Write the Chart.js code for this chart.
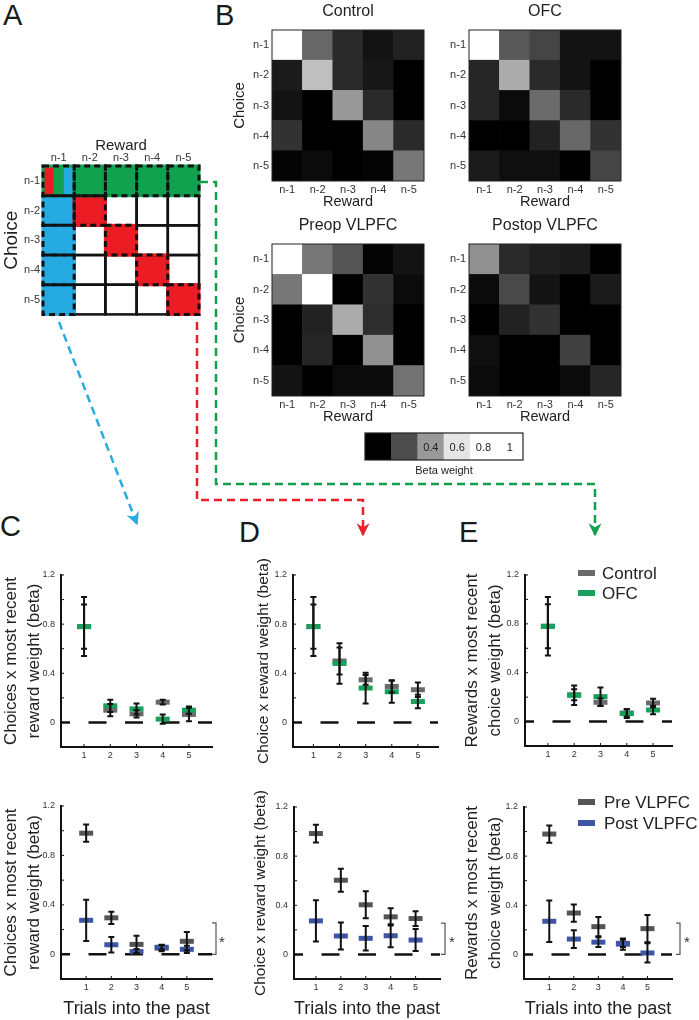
<!DOCTYPE html>
<html>
<head>
<meta charset="utf-8">
<script src="https://cdn.jsdelivr.net/npm/chart.js@4.4.0/dist/chart.umd.min.js"></script>
<style>
  html, body { margin: 0; padding: 0; background: #fff; }
  #fig { position: relative; width: 699px; height: 1020px; overflow: hidden; font-family: "Liberation Sans", Arial, sans-serif; color: #1a1a1a; }
  #fig canvas { position: absolute; }
  .letter { position: absolute; font-size: 29px; line-height: 29px; }
  #arrows { position: absolute; left: 0; top: 0; }
</style>
</head>
<body>
<div id="fig">
  <div class="letter" style="left:3px;top:1px">A</div>
  <div class="letter" style="left:215px;top:1px">B</div>
  <div class="letter" style="left:0px;top:512px">C</div>
  <div class="letter" style="left:239px;top:518px">D</div>
  <div class="letter" style="left:459px;top:518px">E</div>
  <svg id="arrows" width="699" height="1020">
    <defs>
      <marker id="hb" markerUnits="userSpaceOnUse" markerWidth="13" markerHeight="13" viewBox="0 0 10 10" refX="9" refY="5" orient="auto"><path d="M0,0 L10,5 L0,10 L3,5 z" fill="#29abe2"/></marker>
      <marker id="hr" markerUnits="userSpaceOnUse" markerWidth="13" markerHeight="13" viewBox="0 0 10 10" refX="9" refY="5" orient="auto"><path d="M0,0 L10,5 L0,10 L3,5 z" fill="#e8202a"/></marker>
      <marker id="hg" markerUnits="userSpaceOnUse" markerWidth="13" markerHeight="13" viewBox="0 0 10 10" refX="9" refY="5" orient="auto"><path d="M0,0 L10,5 L0,10 L3,5 z" fill="#10a04c"/></marker>
    </defs>
    <polyline points="59,322 137,524" fill="none" stroke="#29abe2" stroke-width="2.5" stroke-dasharray="8 5" marker-end="url(#hb)"/>
    <polyline points="197,322 197,500 363,500 363,535" fill="none" stroke="#e8202a" stroke-width="2.5" stroke-dasharray="8 5" marker-end="url(#hr)"/>
    <polyline points="200,182 216,182 216,484 595,484 595,535" fill="none" stroke="#10a04c" stroke-width="2.5" stroke-dasharray="8 5" marker-end="url(#hg)"/>
  </svg>
</div>
<script>
// ---- data ----
const lagLabels = ["n-1", "n-2", "n-3", "n-4", "n-5"]

// panel A schematic: W white, G green, R red, B blue, M mixed
const schemaCells = [
	["M", "G", "G", "G", "G"],
	["B", "R", "W", "W", "W"],
	["B", "W", "R", "W", "W"],
	["B", "W", "W", "R", "W"],
	["B", "W", "W", "W", "R"],
]

// panel B beta weights, rows = choice n-1..n-5, cols = reward n-1..n-5
const heatControl = [
	[0.90, 0.27, 0.11, 0.05, 0.09],
	[0.07, 0.50, 0.11, 0.06, 0.00],
	[0.05, 0.00, 0.40, 0.11, 0.00],
	[0.13, 0.00, 0.00, 0.35, 0.11],
	[0.01, 0.03, 0.00, 0.01, 0.31],
]
const heatOFC = [
	[0.80, 0.23, 0.18, 0.05, 0.05],
	[0.10, 0.45, 0.11, 0.05, 0.00],
	[0.10, 0.03, 0.28, 0.11, 0.00],
	[0.00, 0.00, 0.09, 0.27, 0.13],
	[0.07, 0.04, 0.04, 0.00, 0.18],
]
const heatPreop = [
	[0.98, 0.31, 0.22, 0.01, 0.05],
	[0.31, 0.70, 0.00, 0.13, 0.03],
	[0.00, 0.09, 0.45, 0.12, 0.00],
	[0.00, 0.10, 0.00, 0.38, 0.00],
	[0.05, 0.00, 0.03, 0.03, 0.30],
]
const heatPostop = [
	[0.38, 0.11, 0.08, 0.07, 0.00],
	[0.03, 0.19, 0.05, 0.00, 0.07],
	[0.00, 0.09, 0.13, 0.00, 0.00],
	[0.04, 0.00, 0.00, 0.17, 0.00],
	[0.03, 0.00, 0.00, 0.03, 0.10],
]

const colorbarLevels = [0, 0.2, 0.4, 0.6, 0.8, 1]
const colorbarTickLabels = ["", "", "0.4", "0.6", "0.8", "1"]

// panels C-E
const trials = [1, 2, 3, 4, 5]
const yTicks = [-0.2, 0, 0.2, 0.4, 0.6, 0.8, 1.0, 1.2]
const bracketTop = 0.255

const cControl = [0.78, 0.10, 0.07, 0.165, 0.065]
const cControlErr = [0.18, 0.05, 0.03, 0.02, 0.055]
const cOFC = [0.78, 0.135, 0.11, 0.027, 0.10]
const cOFCErr = [0.24, 0.05, 0.045, 0.037, 0.03]
const cPre = [0.98, 0.295, 0.08, 0.05, 0.105]
const cPreErr = [0.07, 0.05, 0.07, 0.025, 0.075]
const cPost = [0.275, 0.077, 0.022, 0.057, 0.04]
const cPostErr = [0.167, 0.063, 0.02, 0.02, 0.03]

const dControl = [0.78, 0.50, 0.347, 0.293, 0.266]
const dControlErr = [0.18, 0.11, 0.04, 0.05, 0.06]
const dOFC = [0.78, 0.48, 0.28, 0.25, 0.17]
const dOFCErr = [0.24, 0.165, 0.125, 0.09, 0.055]
const dPre = [0.984, 0.604, 0.404, 0.306, 0.292]
const dPreErr = [0.072, 0.093, 0.11, 0.07, 0.06]
const dPost = [0.273, 0.15, 0.131, 0.152, 0.117]
const dPostErr = [0.168, 0.11, 0.1, 0.093, 0.09]

const eControl = [0.78, 0.22, 0.158, 0.07, 0.152]
const eControlErr = [0.18, 0.045, 0.03, 0.03, 0.035]
const eOFC = [0.78, 0.215, 0.204, 0.065, 0.095]
const eOFCErr = [0.24, 0.08, 0.075, 0.035, 0.035]
const ePre = [0.98, 0.337, 0.226, 0.09, 0.21]
const ePreErr = [0.07, 0.07, 0.078, 0.03, 0.11]
const ePost = [0.27, 0.125, 0.10, 0.084, 0.012]
const ePostErr = [0.168, 0.072, 0.04, 0.046, 0.078]

// ---- styles ----
const FONT = "'Liberation Sans', Arial, sans-serif"
Chart.defaults.font.family = FONT
Chart.defaults.color = "#222"
Chart.defaults.animation = false
Chart.defaults.events = []
Chart.defaults.plugins.legend.display = false
Chart.defaults.plugins.tooltip.enabled = false

const schemaColors = { W: "#ffffff", G: "#12a14f", R: "#ec1c24", B: "#25aae1", M: "#12a14f" }
const colControl = "#6a6a6a"
const colOFC = "#17a15a"
const colPre = "#555555"
const colPost = "#3d55a5"

function cmap(v) {
	const g = Math.round(255 * Math.min(1, Math.max(0, 1.5 * v)))
	return `rgb(${g},${g},${g})`
}

const fig = document.getElementById("fig")
function makeCanvas(box) {
	const c = document.createElement("canvas")
	c.width = box.w
	c.height = box.h
	c.style.left = box.l + "px"
	c.style.top = box.t + "px"
	c.style.width = box.w + "px"
	c.style.height = box.h + "px"
	fig.insertBefore(c, document.getElementById("arrows"))
	return c
}

// ---- plugins ----
const frame = {
	id: "frame",
	afterDatasetsDraw(chart, args, opts) {
		const { ctx, chartArea: a } = chart
		ctx.save()
		ctx.strokeStyle = "#222"
		ctx.lineWidth = opts.width || 1
		ctx.strokeRect(a.left, a.top, a.right - a.left, a.bottom - a.top)
		ctx.restore()
	},
}

const schema = {
	id: "schema",
	afterDatasetsDraw(chart) {
		const ctx = chart.ctx
		const cells = []
		chart.data.datasets.forEach((ds, di) => {
			chart.getDatasetMeta(di).data.forEach((el, ci) => {
				const p = el.getProps(["x", "y", "base", "width"], true)
				cells.push({
					l: p.x - p.width / 2,
					w: p.width,
					t: Math.min(p.y, p.base),
					h: Math.abs(p.base - p.y),
					code: ds.codes[ci],
				})
			})
		})
		ctx.save()
		cells.filter((c) => c.code === "M").forEach((c) => {
			const sw = c.w / 3
			;["R", "G", "B"].forEach((k, i) => {
				ctx.fillStyle = schemaColors[k]
				ctx.fillRect(c.l + i * sw, c.t, sw + 0.5, c.h)
			})
		})
		ctx.strokeStyle = "#111"
		ctx.lineWidth = 2.5
		cells.filter((c) => c.code === "W").forEach((c) => ctx.strokeRect(c.l, c.t, c.w, c.h))
		ctx.lineWidth = 3
		cells.filter((c) => c.code !== "W").forEach((c) => {
			ctx.strokeStyle = schemaColors[c.code]
			ctx.strokeRect(c.l, c.t, c.w, c.h)
		})
		ctx.setLineDash([6, 4])
		ctx.strokeStyle = "#111"
		cells.filter((c) => c.code !== "W").forEach((c) => ctx.strokeRect(c.l, c.t, c.w, c.h))
		ctx.restore()
	},
}

const colorbarText = {
	id: "colorbarText",
	afterDatasetsDraw(chart) {
		const ctx = chart.ctx
		ctx.save()
		ctx.font = "11px " + FONT
		ctx.fillStyle = "#222"
		ctx.textAlign = "center"
		ctx.textBaseline = "middle"
		chart.getDatasetMeta(0).data.forEach((el, i) => {
			const p = el.getProps(["x", "y", "base"], true)
			ctx.fillText(colorbarTickLabels[i], p.x, (p.y + p.base) / 2 + 1)
		})
		ctx.restore()
	},
}

const errorPlot = {
	id: "errorPlot",
	beforeDatasetsDraw(chart) {
		const { ctx, chartArea: a, scales: { y } } = chart
		const y0 = y.getPixelForValue(0)
		ctx.save()
		ctx.setLineDash([18, 18.5])
		ctx.lineDashOffset = 9
		ctx.strokeStyle = "#111"
		ctx.lineWidth = 2.5
		ctx.beginPath()
		ctx.moveTo(a.left, y0)
		ctx.lineTo(a.right, y0)
		ctx.stroke()
		ctx.restore()
	},
	afterDatasetsDraw(chart, args, opts) {
		const { ctx, chartArea: a, scales: { x, y } } = chart
		ctx.save()
		ctx.strokeStyle = "#111"
		ctx.lineWidth = 2
		chart.data.datasets.forEach((ds) => {
			ds.data.forEach((p, i) => {
				const px = x.getPixelForValue(p.x)
				const hi = y.getPixelForValue(p.y + ds.errors[i])
				const lo = y.getPixelForValue(p.y - ds.errors[i])
				ctx.beginPath()
				ctx.moveTo(px, hi)
				ctx.lineTo(px, lo)
				ctx.moveTo(px - 3, hi)
				ctx.lineTo(px + 3, hi)
				ctx.moveTo(px - 3, lo)
				ctx.lineTo(px + 3, lo)
				ctx.stroke()
			})
		})
		// small inward ticks
		ctx.lineWidth = 1
		y.ticks.forEach((t) => {
			const py = y.getPixelForValue(t.value)
			ctx.beginPath()
			ctx.moveTo(a.left, py)
			ctx.lineTo(a.left + 3, py)
			ctx.stroke()
		})
		x.ticks.forEach((t) => {
			const px = x.getPixelForValue(t.value)
			ctx.beginPath()
			ctx.moveTo(px, a.bottom)
			ctx.lineTo(px, a.bottom - 3)
			ctx.stroke()
		})
		if (opts.bracket) {
			const bx = a.right + opts.bracket.dx
			const t = y.getPixelForValue(bracketTop)
			const b = y.getPixelForValue(0)
			ctx.strokeStyle = "#555"
			ctx.lineWidth = 1.2
			ctx.beginPath()
			ctx.moveTo(bx - 4, t)
			ctx.lineTo(bx, t)
			ctx.lineTo(bx, b)
			ctx.lineTo(bx - 4, b)
			ctx.stroke()
			ctx.fillStyle = "#333"
			ctx.font = "15px " + FONT
			ctx.textAlign = "center"
			ctx.textBaseline = "middle"
			ctx.fillText("*", bx + opts.bracket.starDx, (t + b) / 2 + 4)
		}
		if (opts.legend) {
			const L = opts.legend
			ctx.font = "17px " + FONT
			ctx.textAlign = "left"
			ctx.textBaseline = "middle"
			chart.data.datasets.forEach((ds, i) => {
				const ly = L.y + i * L.gap
				ctx.strokeStyle = ds.pointBorderColor
				ctx.lineWidth = 6
				ctx.beginPath()
				ctx.moveTo(L.x, ly)
				ctx.lineTo(L.x + 17, ly)
				ctx.stroke()
				ctx.fillStyle = "#222"
				ctx.fillText(ds.label, L.tx, ly + 1)
			})
		}
		ctx.restore()
	},
}

// ---- grid charts (A, B) ----
function gridChart(box, area, spec) {
	const canvas = makeCanvas(box)
	const top = spec.xPos === "top"
	const xH = top ? area.t - box.t : box.t + box.h - area.b
	const titleH = 16 * 1.2
	const datasets = [4, 3, 2, 1, 0].map((r) => ({
		data: lagLabels.map(() => 1),
		backgroundColor: spec.colors[r],
		codes: spec.codes ? spec.codes[r] : null,
		barPercentage: 1,
		categoryPercentage: 1,
		borderWidth: 0,
	}))
	return new Chart(canvas, {
		type: "bar",
		data: { labels: lagLabels, datasets },
		options: {
			responsive: false,
			maintainAspectRatio: false,
			layout: {
				padding: {
					top: 0,
					left: 0,
					right: box.l + box.w - area.r,
					bottom: top ? box.t + box.h - area.b : 0,
				},
			},
			scales: {
				x: {
					position: top ? "top" : "bottom",
					stacked: true,
					grid: { display: false, drawTicks: false },
					border: { display: false },
					ticks: { font: { size: 11 }, color: "#333", padding: top ? 1 : 2, maxRotation: 0 },
					title: { display: true, text: "Reward", font: { size: spec.xTitleSize }, padding: { top: spec.xTitlePad, bottom: 0 } },
					afterFit: (s) => { s.height = xH },
				},
				y: {
					type: "linear",
					stacked: true,
					min: 0,
					max: 5,
					afterBuildTicks: (s) => { s.ticks = [0.5, 1.5, 2.5, 3.5, 4.5].map((v) => ({ value: v })) },
					grid: { display: false, drawTicks: false },
					border: { display: false },
					ticks: { font: { size: 11 }, color: "#333", padding: 3, callback: (v) => lagLabels[4 - Math.floor(v)] },
					title: spec.yTitle
						? { display: true, text: "Choice", font: { size: spec.yTitleSize }, padding: { top: spec.yTitlePad, bottom: 0 } }
						: { display: false },
					afterFit: (s) => { s.width = area.l - box.l },
				},
			},
			plugins: {
				title: spec.title
					? {
							display: true,
							text: spec.title,
							fullSize: false,
							color: "#222",
							font: { size: 16, weight: "normal" },
							padding: { top: 2.4, bottom: area.t - box.t - 2.4 - titleH },
					  }
					: { display: false },
				frame: { width: 1 },
			},
		},
		plugins: spec.codes ? [schema] : [frame],
	})
}

gridChart({ l: 0, t: 128, w: 206, h: 196 }, { l: 43, t: 166, r: 199, b: 320 }, {
	xPos: "top",
	colors: schemaCells.map((row) => row.map((k) => schemaColors[k])),
	codes: schemaCells,
	xTitleSize: 15,
	xTitlePad: 9,
	yTitle: true,
	yTitleSize: 19,
	yTitlePad: 0,
})

const heatSpecs = [
	{ title: "Control", vals: heatControl, box: { l: 222, t: 0, w: 210, h: 211 }, area: { l: 272, t: 30, r: 424, b: 181 }, yTitle: true },
	{ title: "OFC", vals: heatOFC, box: { l: 440, t: 0, w: 190, h: 211 }, area: { l: 469, t: 30, r: 621, b: 181 }, yTitle: false },
	{ title: "Preop VLPFC", vals: heatPreop, box: { l: 222, t: 214, w: 210, h: 212 }, area: { l: 272, t: 244, r: 424, b: 396 }, yTitle: true },
	{ title: "Postop VLPFC", vals: heatPostop, box: { l: 440, t: 214, w: 190, h: 212 }, area: { l: 469, t: 244, r: 621, b: 396 }, yTitle: false },
]
heatSpecs.forEach((h) => {
	gridChart(h.box, h.area, {
		title: h.title,
		colors: h.vals.map((row) => row.map(cmap)),
		xTitleSize: 14.5,
		xTitlePad: 0,
		yTitle: h.yTitle,
		yTitleSize: 15,
		yTitlePad: 9,
	})
})

// colorbar
new Chart(makeCanvas({ l: 361, t: 429, w: 166, h: 49 }), {
	type: "bar",
	data: {
		labels: colorbarLevels.map(String),
		datasets: [{
			data: colorbarLevels.map(() => 1),
			backgroundColor: colorbarLevels.map(cmap),
			barPercentage: 1,
			categoryPercentage: 1,
			borderWidth: 0,
		}],
	},
	options: {
		responsive: false,
		maintainAspectRatio: false,
		layout: { padding: { left: 4, right: 4, top: 4, bottom: 0 } },
		scales: {
			x: {
				ticks: { display: false },
				grid: { display: false, drawTicks: false },
				border: { display: false },
				title: { display: true, text: "Beta weight", font: { size: 11 }, padding: 0 },
				afterFit: (s) => { s.height = 18 },
			},
			y: { display: false, min: 0, max: 1 },
		},
		plugins: { frame: { width: 1.2 } },
	},
	plugins: [frame, colorbarText],
})

// ---- error bar charts (C, D, E) ----
function errChart(spec) {
	const { box, area } = spec
	return new Chart(makeCanvas(box), {
		type: "scatter",
		data: {
			datasets: spec.series.map((s) => ({
				label: s.label,
				data: trials.map((t, i) => ({ x: t, y: s.means[i] })),
				errors: s.errs,
				order: s.order,
				pointStyle: "line",
				pointRadius: 7,
				pointBorderWidth: 5,
				pointBorderColor: s.color,
				pointBackgroundColor: s.color,
				borderColor: s.color,
			})),
		},
		options: {
			responsive: false,
			maintainAspectRatio: false,
			layout: { padding: { top: area.t - box.t, right: box.l + box.w - area.r, left: 0, bottom: 0 } },
			scales: {
				x: {
					type: "linear",
					min: spec.xRange[0],
					max: spec.xRange[1],
					afterBuildTicks: (s) => { s.ticks = trials.map((v) => ({ value: v })) },
					grid: { display: false, drawTicks: false },
					border: { display: true, color: "#111", width: 2 },
					ticks: { font: { size: 9 }, color: "#333", padding: 3 },
					title: spec.xTitle
						? { display: true, text: spec.xTitle, font: { size: 18 }, padding: 0 }
						: { display: false },
					afterFit: (s) => { s.height = box.t + box.h - area.b },
				},
				y: {
					type: "linear",
					min: -0.2,
					max: 1.2,
					afterBuildTicks: (s) => { s.ticks = yTicks.map((v) => ({ value: v })) },
					grid: { display: false, drawTicks: false },
					border: { display: true, color: "#111", width: 2 },
					ticks: {
						font: { size: 9 },
						color: "#333",
						padding: 6,
						callback: (v) => {
							const k = Math.round(v * 10)
							if (k % 4 !== 0) return ""
							return k === 0 ? "0" : v.toFixed(1)
						},
					},
					title: {
						display: true,
						text: spec.yTitle,
						font: { size: spec.yTitleSize, lineHeight: 1.35 },
						padding: { top: spec.yTitlePad, bottom: 0 },
					},
					afterFit: (s) => { s.width = area.l - box.l },
				},
			},
			plugins: { errorPlot: { bracket: spec.bracket, legend: spec.legend } },
		},
		plugins: [errorPlot],
	})
}

const titleC = ["Choices x most recent", "reward weight (beta)"]
const titleD = "Choice x reward weight (beta)"
const titleE = ["Rewards x most recent", "choice weight (beta)"]
const xTitle = "Trials into the past"

function lesionSeries(ctrl, ctrlErr, ofc, ofcErr) {
	return [
		{ label: "Control", means: ctrl, errs: ctrlErr, color: colControl, order: 2 },
		{ label: "OFC", means: ofc, errs: ofcErr, color: colOFC, order: 1 },
	]
}
function vlpfcSeries(pre, preErr, post, postErr) {
	return [
		{ label: "Pre VLPFC", means: pre, errs: preErr, color: colPre, order: 2 },
		{ label: "Post VLPFC", means: post, errs: postErr, color: colPost, order: 1 },
	]
}

errChart({
	box: { l: 0, t: 560, w: 232, h: 215 }, area: { l: 61, t: 575, r: 212, b: 747 },
	xRange: [0.12, 5.88], yTitle: titleC, yTitleSize: 17, yTitlePad: 0,
	series: lesionSeries(cControl, cControlErr, cOFC, cOFCErr),
})
errChart({
	box: { l: 0, t: 790, w: 232, h: 230 }, area: { l: 61, t: 806, r: 212, b: 979 },
	xRange: [0, 6], yTitle: titleC, yTitleSize: 17, yTitlePad: 0, xTitle,
	series: vlpfcSeries(cPre, cPreErr, cPost, cPostErr),
	bracket: { dx: 4, starDx: 6 },
})
errChart({
	box: { l: 245, t: 540, w: 205, h: 235 }, area: { l: 293, t: 575, r: 438, b: 747 },
	xRange: [0.22, 5.77], yTitle: titleD, yTitleSize: 15.5, yTitlePad: 8,
	series: lesionSeries(dControl, dControlErr, dOFC, dOFCErr),
})
errChart({
	box: { l: 245, t: 782, w: 215, h: 238 }, area: { l: 294, t: 807, r: 440, b: 979 },
	xRange: [0.12, 5.98], yTitle: titleD, yTitleSize: 15.5, yTitlePad: 5,
	series: vlpfcSeries(dPre, dPreErr, dPost, dPostErr),
	bracket: { dx: 5, starDx: 7 },
	xTitle,
})
errChart({
	box: { l: 460, t: 560, w: 239, h: 215 }, area: { l: 525, t: 575, r: 672, b: 746 },
	xRange: [0.13, 5.72], yTitle: titleE, yTitleSize: 17, yTitlePad: 1,
	series: lesionSeries(eControl, eControlErr, eOFC, eOFCErr),
	legend: { x: 118, y: 13, gap: 20, tx: 142 },
})
errChart({
	box: { l: 460, t: 790, w: 239, h: 230 }, area: { l: 524, t: 807, r: 672, b: 979 },
	xRange: [-0.03, 6.0], yTitle: titleE, yTitleSize: 17, yTitlePad: 1, xTitle,
	series: vlpfcSeries(ePre, ePreErr, ePost, ePostErr),
	bracket: { dx: 8, starDx: 7 },
	legend: { x: 118, y: 12, gap: 21, tx: 144 },
})
</script>
</body>
</html>
